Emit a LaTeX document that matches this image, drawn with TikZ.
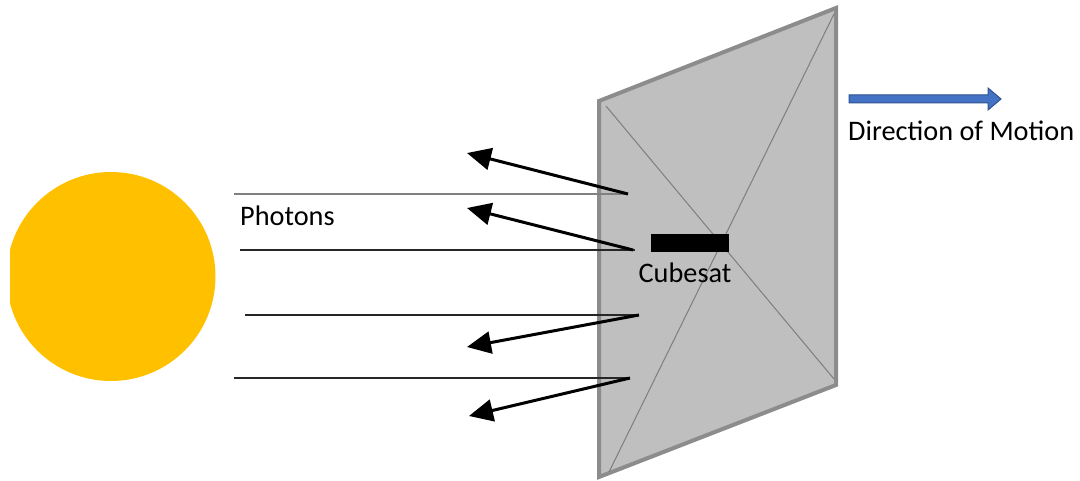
\documentclass[tikz,border=0pt]{standalone}
\usepackage{fontspec}
\setmainfont{Carlito}
\usetikzlibrary{arrows.meta}
\definecolor{sunc}{HTML}{FFC000}
\definecolor{panelfill}{HTML}{BFBFBF}
\definecolor{panelline}{HTML}{8C8C8C}
\definecolor{motionfill}{HTML}{4472C4}
\definecolor{motionline}{HTML}{2F528F}
\tikzset{
  photon/.style={line width=1.4pt, draw=black!85},
  reflect/.style={line width=3pt, draw=black, -{Triangle[length=24pt,width=22pt]}},
  lbl/.style={font=\fontsize{28.3}{32}\selectfont, inner sep=0pt, anchor=base west},
}
\begin{document}
\begin{tikzpicture}[x=1pt,y=-1pt]
\useasboundingbox (0,0) rectangle (1080,481);
% sun
\begin{scope}
\clip (10,0) rectangle (400,481);
\fill[sunc] (111,276.5) circle[radius=104.5];
\end{scope}
% panel
\coordinate (tl) at (599,101);
\coordinate (tr) at (836,8);
\coordinate (br) at (836,385);
\coordinate (bl) at (599,477);
\draw[fill=panelfill, draw=panelline, line width=4pt, line join=miter] (tl) -- (tr) -- (br) -- (bl) -- cycle;
\coordinate (d1a) at (606,106);
\coordinate (d1b) at (834,379);
\coordinate (d2a) at (834,14);
\coordinate (d2b) at (609,472);
\draw[panelline!90!black, line width=1pt] (d1a) -- (d1b);
\draw[panelline!90!black, line width=1pt] (d2a) -- (d2b);
% photons
\coordinate (p1a) at (234,194); \coordinate (p1b) at (628,194);
\coordinate (p2a) at (240,250); \coordinate (p2b) at (635,250);
\coordinate (p3a) at (245,315); \coordinate (p3b) at (639,315);
\coordinate (p4a) at (234,378); \coordinate (p4b) at (630,378);
\draw[photon, draw=black!50, line width=2pt] (p1a) -- (p1b);
\draw[photon] (p2a) -- (p2b);
\draw[photon] (p3a) -- (p3b);
\draw[photon] (p4a) -- (p4b);
% reflected
\coordinate (r1) at (467,153);
\coordinate (r2) at (467,208);
\coordinate (r3) at (467,347);
\coordinate (r4) at (469,416);
\draw[reflect] (p1b) -- (r1);
\draw[reflect] ([xshift=-2pt]p2b) -- (r2);
\draw[reflect] (p3b) -- (r3);
\draw[reflect] (p4b) -- (r4);
% cubesat
\node[fill=black, minimum width=78pt, minimum height=18pt, inner sep=0pt] (cubesat) at (690,243) {};
\node[lbl, anchor=base] (cubelbl) at (685,283) {Cubesat};
\node[lbl] (photons) at (240,226) {Photons};
% motion arrow
\coordinate (m0) at (849,99);
\draw[fill=motionfill, draw=motionline, line width=1pt]
  (849,95) -- (988,95) -- (988,88) -- (1001,99) -- (988,110) -- (988,103) -- (849,103) -- cycle;
\node[lbl] (motion) at (848,141) {Direction of Motion};
\end{tikzpicture}
\end{document}
